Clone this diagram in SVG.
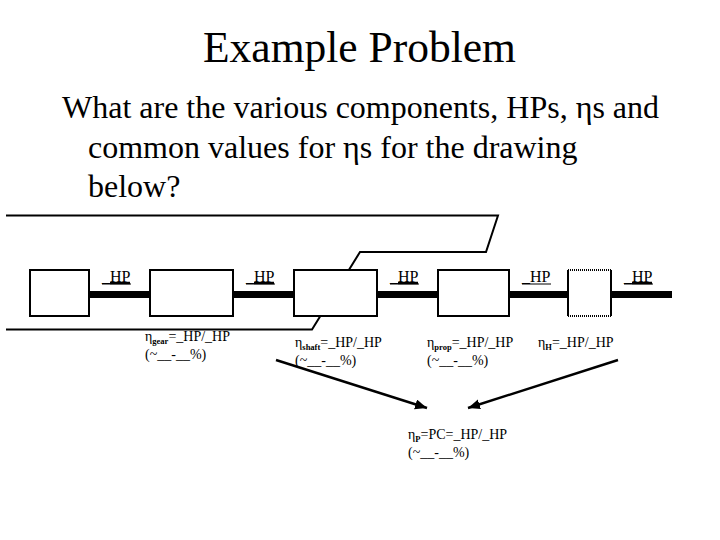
<svg xmlns="http://www.w3.org/2000/svg" width="720" height="540" viewBox="0 0 720 540">
<defs>
<marker id="ah" markerUnits="userSpaceOnUse" markerWidth="13" markerHeight="11" refX="12" refY="5" orient="auto"><path d="M0,0L12,5L0,10z" fill="#000"/></marker>
</defs>
<style>
text{font-family:"Liberation Serif","Times New Roman",serif;fill:#000}
.t{font-size:43.500px}.b{font-size:32px}.h{font-size:16px}.s{font-size:14px}.u{font-size:8.500px;font-weight:bold}
.box{fill:#fff;stroke:#000;stroke-width:2}
.shaft{stroke:#000;stroke-width:7;fill:none}
.hull{stroke:#000;stroke-width:2;fill:none}
.ar{stroke:#000;stroke-width:2.400;fill:none;marker-end:url(#ah)}
</style>
<rect width="720" height="540" fill="#fff"/>
<g id="heading">
<text class="t" x="359.500" y="62" text-anchor="middle">Example Problem</text>
<text class="b" x="62" y="118">What are the various components, HPs, ηs and</text>
<text class="b" x="88" y="158">common values for ηs for the drawing</text>
<text class="b" x="88" y="197">below?</text>
</g>
<g id="connectors">
<path class="hull" d="M6,215.500H498L486,252H360L312,329.500H6"/>
<path class="shaft" d="M89,294.500H150M233,294.500H294M377,294.500H438M509,294.500H568M611,294.500H672"/>
<path class="ar" d="M276,360L427,408"/>
<path class="ar" d="M618,360L468,408"/>
</g>
<g id="box1"><rect class="box" x="30" y="270" width="59" height="46"/></g>
<g id="box2"><rect class="box" x="150" y="270" width="83" height="46"/></g>
<g id="box3"><rect class="box" x="294" y="270" width="83" height="46"/></g>
<g id="box4"><rect class="box" x="438" y="270" width="71" height="46"/></g>
<g id="box5">
<rect x="568" y="270" width="43" height="46" fill="#fff"/>
<path d="M568,270V316M611,270V316" stroke="#000" stroke-width="2" fill="none"/>
<path d="M568,270H611M568,316H611" stroke="#000" stroke-width="2" stroke-dasharray="1 1" fill="none"/>
</g>
<g id="hp-labels">
<text class="h" x="102" y="282">_HP</text>
<text class="h" x="246" y="282">_HP</text>
<text class="h" x="390" y="282">_HP</text>
<text class="h" x="522" y="282">_HP</text>
<text class="h" x="624" y="282">_HP</text>
<path d="M102,284H131M246,284H275M390,284H419M522,284H551M624,284H653" stroke="#000" stroke-width="1"/>
<path d="M110,283H130M254,283H274M398,283H418M632,283H652" stroke="#000" stroke-width="2.500"/>
</g>
<g id="eta-gear">
<text class="s" x="145" y="341">η<tspan class="u" dy="3">gear</tspan><tspan dy="-3">=_HP/_HP</tspan></text>
<text class="s" x="145" y="359">(~__-__%)</text>
</g>
<g id="eta-shaft">
<text class="s" x="295" y="347">η<tspan class="u" dy="3">shaft</tspan><tspan dy="-3">=_HP/_HP</tspan></text>
<text class="s" x="295" y="365">(~__-__%)</text>
</g>
<g id="eta-prop">
<text class="s" x="427" y="347">η<tspan class="u" dy="3">prop</tspan><tspan dy="-3">=_HP/_HP</tspan></text>
<text class="s" x="427" y="365">(~__-__%)</text>
</g>
<g id="eta-h">
<text class="s" x="538" y="347">η<tspan class="u" dy="3">H</tspan><tspan dy="-3">=_HP/_HP</tspan></text>
</g>
<g id="eta-p">
<text class="s" x="408" y="439">η<tspan class="u" dy="3">P</tspan><tspan dy="-3">=PC=_HP/_HP</tspan></text>
<text class="s" x="408" y="457">(~__-__%)</text>
</g>
</svg>
